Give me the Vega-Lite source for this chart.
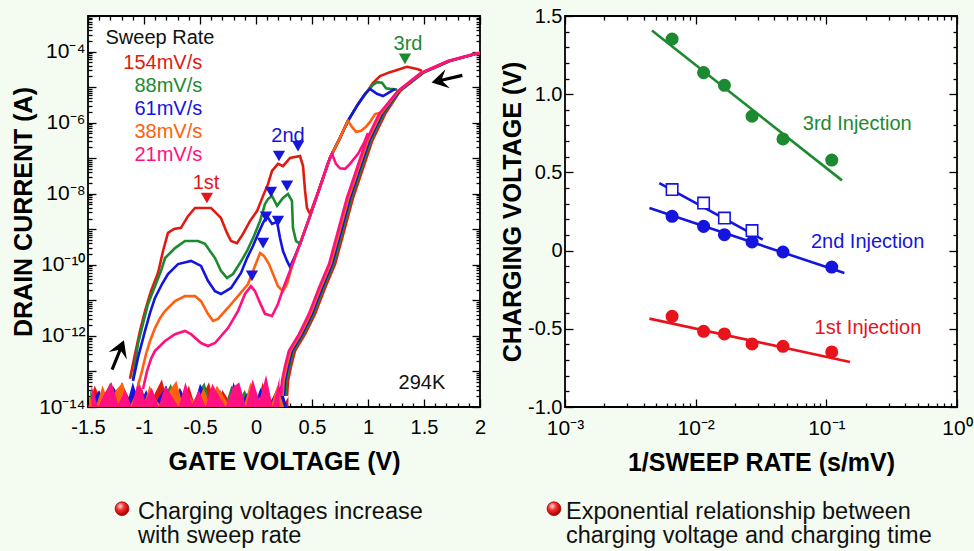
{
"$schema":"https://vega.github.io/schema/vega-lite/v6.json",
"background":"#f4fcf1",
"padding":{"left":10,"top":4,"right":0,"bottom":0},
"datasets":{
"noise":[
{"k":"154mV/s","v":-1.50,"i":1e-14},{"k":"154mV/s","v":-1.44,"i":4e-14},{"k":"154mV/s","v":-1.38,"i":1.5e-14},{"k":"154mV/s","v":-1.32,"i":3e-14},{"k":"154mV/s","v":-1.26,"i":1e-14},{"k":"154mV/s","v":-1.20,"i":5e-14},{"k":"154mV/s","v":-1.14,"i":2e-14},{"k":"154mV/s","v":-1.08,"i":1e-14},{"k":"154mV/s","v":-1.02,"i":3.5e-14},{"k":"154mV/s","v":-0.96,"i":1e-14},{"k":"154mV/s","v":-0.90,"i":2.5e-14},{"k":"154mV/s","v":-0.84,"i":6e-14},{"k":"154mV/s","v":-0.78,"i":1e-14},{"k":"154mV/s","v":-0.72,"i":3e-14},{"k":"154mV/s","v":-0.66,"i":1.2e-14},{"k":"154mV/s","v":-0.60,"i":4e-14},{"k":"154mV/s","v":-0.54,"i":1e-14},{"k":"154mV/s","v":-0.48,"i":2e-14},{"k":"154mV/s","v":-0.42,"i":5e-14},{"k":"154mV/s","v":-0.36,"i":1e-14},{"k":"154mV/s","v":-0.30,"i":3e-14},{"k":"154mV/s","v":-0.24,"i":1.5e-14},{"k":"154mV/s","v":-0.18,"i":4e-14},{"k":"154mV/s","v":-0.12,"i":1e-14},{"k":"154mV/s","v":-0.06,"i":2.5e-14},{"k":"154mV/s","v":0.00,"i":1e-14},{"k":"154mV/s","v":0.06,"i":5e-14},{"k":"154mV/s","v":0.12,"i":1.2e-14},{"k":"154mV/s","v":0.18,"i":3e-14},{"k":"154mV/s","v":0.24,"i":1e-14},{"k":"154mV/s","v":0.29,"i":2e-14},
{"k":"88mV/s","v":-1.48,"i":3e-14},{"k":"88mV/s","v":-1.42,"i":1e-14},{"k":"88mV/s","v":-1.36,"i":2e-14},{"k":"88mV/s","v":-1.30,"i":5e-14},{"k":"88mV/s","v":-1.24,"i":1e-14},{"k":"88mV/s","v":-1.18,"i":2.5e-14},{"k":"88mV/s","v":-1.12,"i":1e-14},{"k":"88mV/s","v":-1.06,"i":4e-14},{"k":"88mV/s","v":-1.00,"i":1.2e-14},{"k":"88mV/s","v":-0.94,"i":3e-14},{"k":"88mV/s","v":-0.88,"i":1e-14},{"k":"88mV/s","v":-0.82,"i":2e-14},{"k":"88mV/s","v":-0.76,"i":4.5e-14},{"k":"88mV/s","v":-0.70,"i":1e-14},{"k":"88mV/s","v":-0.64,"i":3e-14},{"k":"88mV/s","v":-0.58,"i":1e-14},{"k":"88mV/s","v":-0.52,"i":2.5e-14},{"k":"88mV/s","v":-0.46,"i":5e-14},{"k":"88mV/s","v":-0.40,"i":1e-14},{"k":"88mV/s","v":-0.34,"i":2e-14},{"k":"88mV/s","v":-0.28,"i":1e-14},{"k":"88mV/s","v":-0.22,"i":4e-14},{"k":"88mV/s","v":-0.16,"i":1.5e-14},{"k":"88mV/s","v":-0.10,"i":3e-14},{"k":"88mV/s","v":-0.04,"i":1e-14},{"k":"88mV/s","v":0.02,"i":2e-14},{"k":"88mV/s","v":0.08,"i":4e-14},{"k":"88mV/s","v":0.14,"i":1e-14},{"k":"88mV/s","v":0.20,"i":3.5e-14},{"k":"88mV/s","v":0.26,"i":1.2e-14},
{"k":"61mV/s","v":-1.46,"i":1.5e-14},{"k":"61mV/s","v":-1.40,"i":3e-14},{"k":"61mV/s","v":-1.34,"i":1e-14},{"k":"61mV/s","v":-1.28,"i":4e-14},{"k":"61mV/s","v":-1.22,"i":2e-14},{"k":"61mV/s","v":-1.16,"i":1e-14},{"k":"61mV/s","v":-1.10,"i":5e-14},{"k":"61mV/s","v":-1.04,"i":1.2e-14},{"k":"61mV/s","v":-0.98,"i":3e-14},{"k":"61mV/s","v":-0.92,"i":1e-14},{"k":"61mV/s","v":-0.86,"i":2e-14},{"k":"61mV/s","v":-0.80,"i":4e-14},{"k":"61mV/s","v":-0.74,"i":1e-14},{"k":"61mV/s","v":-0.68,"i":3.5e-14},{"k":"61mV/s","v":-0.62,"i":1.5e-14},{"k":"61mV/s","v":-0.56,"i":1e-14},{"k":"61mV/s","v":-0.50,"i":4.5e-14},{"k":"61mV/s","v":-0.44,"i":2e-14},{"k":"61mV/s","v":-0.38,"i":1e-14},{"k":"61mV/s","v":-0.32,"i":3e-14},{"k":"61mV/s","v":-0.26,"i":1e-14},{"k":"61mV/s","v":-0.20,"i":5e-14},{"k":"61mV/s","v":-0.14,"i":1.2e-14},{"k":"61mV/s","v":-0.08,"i":2.5e-14},{"k":"61mV/s","v":-0.02,"i":1e-14},{"k":"61mV/s","v":0.04,"i":3.5e-14},{"k":"61mV/s","v":0.10,"i":1e-14},{"k":"61mV/s","v":0.16,"i":2e-14},{"k":"61mV/s","v":0.22,"i":4e-14},{"k":"61mV/s","v":0.28,"i":1e-14},
{"k":"38mV/s","v":-1.49,"i":2e-14},{"k":"38mV/s","v":-1.43,"i":1e-14},{"k":"38mV/s","v":-1.37,"i":4e-14},{"k":"38mV/s","v":-1.31,"i":1.2e-14},{"k":"38mV/s","v":-1.25,"i":3e-14},{"k":"38mV/s","v":-1.19,"i":5e-14},{"k":"38mV/s","v":-1.13,"i":1e-14},{"k":"38mV/s","v":-1.07,"i":2.5e-14},{"k":"38mV/s","v":-1.01,"i":1e-14},{"k":"38mV/s","v":-0.95,"i":4e-14},{"k":"38mV/s","v":-0.89,"i":1.5e-14},{"k":"38mV/s","v":-0.83,"i":1e-14},{"k":"38mV/s","v":-0.77,"i":3e-14},{"k":"38mV/s","v":-0.71,"i":5.5e-14},{"k":"38mV/s","v":-0.65,"i":1e-14},{"k":"38mV/s","v":-0.59,"i":2e-14},{"k":"38mV/s","v":-0.53,"i":1e-14},{"k":"38mV/s","v":-0.47,"i":3.5e-14},{"k":"38mV/s","v":-0.41,"i":1.2e-14},{"k":"38mV/s","v":-0.35,"i":4e-14},{"k":"38mV/s","v":-0.29,"i":2e-14},{"k":"38mV/s","v":-0.23,"i":1e-14},{"k":"38mV/s","v":-0.17,"i":3e-14},{"k":"38mV/s","v":-0.11,"i":1e-14},{"k":"38mV/s","v":-0.05,"i":5e-14},{"k":"38mV/s","v":0.01,"i":1.5e-14},{"k":"38mV/s","v":0.07,"i":2.5e-14},{"k":"38mV/s","v":0.13,"i":1e-14},{"k":"38mV/s","v":0.19,"i":4e-14},{"k":"38mV/s","v":0.25,"i":1e-14},
{"k":"21mV/s","v":-1.47,"i":4e-14},{"k":"21mV/s","v":-1.41,"i":1e-14},{"k":"21mV/s","v":-1.35,"i":2.5e-14},{"k":"21mV/s","v":-1.29,"i":5e-14},{"k":"21mV/s","v":-1.23,"i":1.2e-14},{"k":"21mV/s","v":-1.17,"i":3e-14},{"k":"21mV/s","v":-1.11,"i":1e-14},{"k":"21mV/s","v":-1.05,"i":6e-14},{"k":"21mV/s","v":-0.99,"i":1.5e-14},{"k":"21mV/s","v":-0.93,"i":3.5e-14},{"k":"21mV/s","v":-0.87,"i":1e-14},{"k":"21mV/s","v":-0.81,"i":4e-14},{"k":"21mV/s","v":-0.75,"i":2e-14},{"k":"21mV/s","v":-0.69,"i":1e-14},{"k":"21mV/s","v":-0.63,"i":5e-14},{"k":"21mV/s","v":-0.57,"i":1.2e-14},{"k":"21mV/s","v":-0.51,"i":3e-14},{"k":"21mV/s","v":-0.45,"i":1e-14},{"k":"21mV/s","v":-0.39,"i":4.5e-14},{"k":"21mV/s","v":-0.33,"i":2e-14},{"k":"21mV/s","v":-0.27,"i":1e-14},{"k":"21mV/s","v":-0.21,"i":3.5e-14},{"k":"21mV/s","v":-0.15,"i":5e-14},{"k":"21mV/s","v":-0.09,"i":1e-14},{"k":"21mV/s","v":-0.03,"i":6e-14},{"k":"21mV/s","v":0.03,"i":1.5e-14},{"k":"21mV/s","v":0.09,"i":8e-14},{"k":"21mV/s","v":0.15,"i":1e-14},{"k":"21mV/s","v":0.21,"i":7e-14}
],
"curves":[
{"k":"154mV/s","b":"f","v":-1.125,"i":6.2e-14},{"k":"154mV/s","b":"f","v":-1.08,"i":3.1e-13},{"k":"154mV/s","b":"f","v":-1.036,"i":1.38e-12},{"k":"154mV/s","b":"f","v":-0.991,"i":5.0e-12},{"k":"154mV/s","b":"f","v":-0.938,"i":1.82e-11},{"k":"154mV/s","b":"f","v":-0.875,"i":5.9e-11},{"k":"154mV/s","b":"f","v":-0.83,"i":2.45e-10},{"k":"154mV/s","b":"f","v":-0.786,"i":7.9e-10},{"k":"154mV/s","b":"f","v":-0.732,"i":1.02e-9},{"k":"154mV/s","b":"f","v":-0.67,"i":1.1e-9},{"k":"154mV/s","b":"f","v":-0.607,"i":2.34e-9},{"k":"154mV/s","b":"f","v":-0.545,"i":3.98e-9},{"k":"154mV/s","b":"f","v":-0.402,"i":3.98e-9},{"k":"154mV/s","b":"f","v":-0.313,"i":2.09e-9},{"k":"154mV/s","b":"f","v":-0.259,"i":7.9e-10},{"k":"154mV/s","b":"f","v":-0.223,"i":4.68e-10},{"k":"154mV/s","b":"f","v":-0.17,"i":4.07e-10},{"k":"154mV/s","b":"f","v":-0.116,"i":7.4e-10},{"k":"154mV/s","b":"f","v":-0.054,"i":1.7e-9},{"k":"154mV/s","b":"f","v":0.009,"i":3.24e-9},{"k":"154mV/s","b":"f","v":0.063,"i":8.7e-9},{"k":"154mV/s","b":"f","v":0.107,"i":1.86e-8},{"k":"154mV/s","b":"f","v":0.143,"i":4.37e-8},{"k":"154mV/s","b":"f","v":0.196,"i":6.9e-8},{"k":"154mV/s","b":"f","v":0.241,"i":6.0e-8},{"k":"154mV/s","b":"f","v":0.304,"i":1.02e-7},{"k":"154mV/s","b":"f","v":0.393,"i":1.15e-7},{"k":"154mV/s","b":"f","v":0.42,"i":6.0e-8},{"k":"154mV/s","b":"f","v":0.438,"i":1.2e-8},{"k":"154mV/s","b":"f","v":0.455,"i":3.98e-9},{"k":"154mV/s","b":"f","v":0.482,"i":2.69e-9},{"k":"154mV/s","b":"f","v":0.571,"i":1.55e-8},{"k":"154mV/s","b":"f","v":0.661,"i":1.02e-7},{"k":"154mV/s","b":"f","v":0.75,"i":3.72e-7},{"k":"154mV/s","b":"f","v":0.821,"i":1.12e-6},{"k":"154mV/s","b":"f","v":0.911,"i":3.31e-6},{"k":"154mV/s","b":"f","v":0.982,"i":6.76e-6},{"k":"154mV/s","b":"f","v":1.045,"i":1.32e-5},{"k":"154mV/s","b":"f","v":1.107,"i":2.04e-5},{"k":"154mV/s","b":"f","v":1.196,"i":2.63e-5},{"k":"154mV/s","b":"f","v":1.259,"i":3.02e-5},{"k":"154mV/s","b":"f","v":1.348,"i":3.72e-5},{"k":"154mV/s","b":"f","v":1.438,"i":3.24e-5},{"k":"154mV/s","b":"f","v":1.482,"i":2.9e-5},
{"k":"154mV/s","b":"b","v":2.0,"i":9.1e-5},{"k":"154mV/s","b":"b","v":1.96,"i":8.5e-5},{"k":"154mV/s","b":"b","v":1.733,"i":5.4e-5},{"k":"154mV/s","b":"b","v":1.492,"i":2.51e-5},{"k":"154mV/s","b":"b","v":1.287,"i":7.8e-6},{"k":"154mV/s","b":"b","v":1.152,"i":1.74e-6},{"k":"154mV/s","b":"b","v":1.036,"i":3.0e-7},{"k":"154mV/s","b":"b","v":0.947,"i":4.37e-8},{"k":"154mV/s","b":"b","v":0.866,"i":7.6e-9},{"k":"154mV/s","b":"b","v":0.786,"i":8.9e-10},{"k":"154mV/s","b":"b","v":0.706,"i":1.05e-10},{"k":"154mV/s","b":"b","v":0.616,"i":2.24e-11},{"k":"154mV/s","b":"b","v":0.527,"i":4.17e-12},{"k":"154mV/s","b":"b","v":0.438,"i":1.12e-12},{"k":"154mV/s","b":"b","v":0.348,"i":3.8e-13},{"k":"154mV/s","b":"b","v":0.313,"i":1.41e-13},{"k":"154mV/s","b":"b","v":0.286,"i":5.4e-14},{"k":"154mV/s","b":"b","v":0.277,"i":2.04e-14},
{"k":"88mV/s","b":"f","v":-1.098,"i":6.2e-14},{"k":"88mV/s","b":"f","v":-1.054,"i":5.9e-13},{"k":"88mV/s","b":"f","v":-1.009,"i":2.19e-12},{"k":"88mV/s","b":"f","v":-0.964,"i":7.9e-12},{"k":"88mV/s","b":"f","v":-0.902,"i":2.51e-11},{"k":"88mV/s","b":"f","v":-0.848,"i":6.8e-11},{"k":"88mV/s","b":"f","v":-0.812,"i":1.55e-10},{"k":"88mV/s","b":"f","v":-0.723,"i":2.95e-10},{"k":"88mV/s","b":"f","v":-0.634,"i":4.68e-10},{"k":"88mV/s","b":"f","v":-0.518,"i":4.68e-10},{"k":"88mV/s","b":"f","v":-0.455,"i":3.89e-10},{"k":"88mV/s","b":"f","v":-0.411,"i":2.45e-10},{"k":"88mV/s","b":"f","v":-0.366,"i":1.55e-10},{"k":"88mV/s","b":"f","v":-0.313,"i":6.8e-11},{"k":"88mV/s","b":"f","v":-0.259,"i":4.27e-11},{"k":"88mV/s","b":"f","v":-0.205,"i":5.5e-11},{"k":"88mV/s","b":"f","v":-0.143,"i":1.12e-10},{"k":"88mV/s","b":"f","v":-0.08,"i":2.45e-10},{"k":"88mV/s","b":"f","v":-0.018,"i":6.5e-10},{"k":"88mV/s","b":"f","v":0.036,"i":1.7e-9},{"k":"88mV/s","b":"f","v":0.08,"i":5.1e-9},{"k":"88mV/s","b":"f","v":0.107,"i":7.1e-9},{"k":"88mV/s","b":"f","v":0.143,"i":8.7e-9},{"k":"88mV/s","b":"f","v":0.188,"i":4.57e-9},{"k":"88mV/s","b":"f","v":0.241,"i":7.6e-9},{"k":"88mV/s","b":"f","v":0.286,"i":9.8e-9},{"k":"88mV/s","b":"f","v":0.321,"i":6.3e-9},{"k":"88mV/s","b":"f","v":0.33,"i":1.1e-9},{"k":"88mV/s","b":"f","v":0.357,"i":4.68e-10},{"k":"88mV/s","b":"f","v":0.393,"i":3.89e-10},{"k":"88mV/s","b":"f","v":0.482,"i":2.34e-9},{"k":"88mV/s","b":"f","v":0.571,"i":1.55e-8},{"k":"88mV/s","b":"f","v":0.661,"i":1.02e-7},{"k":"88mV/s","b":"f","v":0.75,"i":3.72e-7},{"k":"88mV/s","b":"f","v":0.821,"i":1.12e-6},{"k":"88mV/s","b":"f","v":0.911,"i":3.31e-6},{"k":"88mV/s","b":"f","v":0.982,"i":6.76e-6},{"k":"88mV/s","b":"f","v":1.045,"i":1.15e-5},{"k":"88mV/s","b":"f","v":1.08,"i":1.38e-5},{"k":"88mV/s","b":"f","v":1.125,"i":1.32e-5},{"k":"88mV/s","b":"f","v":1.161,"i":9.3e-6},{"k":"88mV/s","b":"f","v":1.196,"i":8.9e-6},{"k":"88mV/s","b":"f","v":1.26,"i":8.5e-6},
{"k":"88mV/s","b":"b","v":2.0,"i":9.1e-5},{"k":"88mV/s","b":"b","v":1.96,"i":8.5e-5},{"k":"88mV/s","b":"b","v":1.728,"i":5.4e-5},{"k":"88mV/s","b":"b","v":1.487,"i":2.51e-5},{"k":"88mV/s","b":"b","v":1.282,"i":7.8e-6},{"k":"88mV/s","b":"b","v":1.138,"i":1.74e-6},{"k":"88mV/s","b":"b","v":1.022,"i":3.0e-7},{"k":"88mV/s","b":"b","v":0.933,"i":4.37e-8},{"k":"88mV/s","b":"b","v":0.852,"i":7.6e-9},{"k":"88mV/s","b":"b","v":0.772,"i":8.9e-10},{"k":"88mV/s","b":"b","v":0.692,"i":1.05e-10},{"k":"88mV/s","b":"b","v":0.602,"i":2.24e-11},{"k":"88mV/s","b":"b","v":0.513,"i":4.17e-12},{"k":"88mV/s","b":"b","v":0.424,"i":1.12e-12},{"k":"88mV/s","b":"b","v":0.334,"i":3.8e-13},{"k":"88mV/s","b":"b","v":0.299,"i":1.41e-13},{"k":"88mV/s","b":"b","v":0.272,"i":5.4e-14},{"k":"88mV/s","b":"b","v":0.263,"i":2.04e-14},
{"k":"61mV/s","b":"f","v":-1.098,"i":5.4e-14},{"k":"61mV/s","b":"f","v":-1.054,"i":2.4e-13},{"k":"61mV/s","b":"f","v":-0.991,"i":1.38e-12},{"k":"61mV/s","b":"f","v":-0.946,"i":4.47e-12},{"k":"61mV/s","b":"f","v":-0.902,"i":1.17e-11},{"k":"61mV/s","b":"f","v":-0.839,"i":2.88e-11},{"k":"61mV/s","b":"f","v":-0.786,"i":5.5e-11},{"k":"61mV/s","b":"f","v":-0.696,"i":1.05e-10},{"k":"61mV/s","b":"f","v":-0.58,"i":1.29e-10},{"k":"61mV/s","b":"f","v":-0.491,"i":9.3e-11},{"k":"61mV/s","b":"f","v":-0.429,"i":3.55e-11},{"k":"61mV/s","b":"f","v":-0.366,"i":1.82e-11},{"k":"61mV/s","b":"f","v":-0.313,"i":1.51e-11},{"k":"61mV/s","b":"f","v":-0.223,"i":2.24e-11},{"k":"61mV/s","b":"f","v":-0.134,"i":5.9e-11},{"k":"61mV/s","b":"f","v":-0.08,"i":1.55e-10},{"k":"61mV/s","b":"f","v":-0.027,"i":3.39e-10},{"k":"61mV/s","b":"f","v":0.018,"i":7.4e-10},{"k":"61mV/s","b":"f","v":0.063,"i":1.51e-9},{"k":"61mV/s","b":"f","v":0.098,"i":2.34e-9},{"k":"61mV/s","b":"f","v":0.143,"i":1.41e-9},{"k":"61mV/s","b":"f","v":0.188,"i":1.62e-9},{"k":"61mV/s","b":"f","v":0.214,"i":5.75e-10},{"k":"61mV/s","b":"f","v":0.241,"i":2.45e-10},{"k":"61mV/s","b":"f","v":0.277,"i":1.29e-10},{"k":"61mV/s","b":"f","v":0.304,"i":8.7e-11},{"k":"61mV/s","b":"f","v":0.348,"i":1.78e-10},{"k":"61mV/s","b":"f","v":0.393,"i":3.89e-10},{"k":"61mV/s","b":"f","v":0.482,"i":2.34e-9},{"k":"61mV/s","b":"f","v":0.571,"i":1.55e-8},{"k":"61mV/s","b":"f","v":0.661,"i":1.02e-7},{"k":"61mV/s","b":"f","v":0.75,"i":3.72e-7},{"k":"61mV/s","b":"f","v":0.821,"i":1.12e-6},{"k":"61mV/s","b":"f","v":0.911,"i":3.31e-6},{"k":"61mV/s","b":"f","v":0.973,"i":6.5e-6},{"k":"61mV/s","b":"f","v":1.018,"i":8.9e-6},{"k":"61mV/s","b":"f","v":1.08,"i":6.5e-6},{"k":"61mV/s","b":"f","v":1.134,"i":5.6e-6},{"k":"61mV/s","b":"f","v":1.179,"i":6.8e-6},{"k":"61mV/s","b":"f","v":1.241,"i":8.9e-6},
{"k":"61mV/s","b":"b","v":2.0,"i":9.1e-5},{"k":"61mV/s","b":"b","v":1.955,"i":8.5e-5},{"k":"61mV/s","b":"b","v":1.723,"i":5.4e-5},{"k":"61mV/s","b":"b","v":1.482,"i":2.51e-5},{"k":"61mV/s","b":"b","v":1.277,"i":7.8e-6},{"k":"61mV/s","b":"b","v":1.125,"i":1.74e-6},{"k":"61mV/s","b":"b","v":1.009,"i":3.0e-7},{"k":"61mV/s","b":"b","v":0.92,"i":4.37e-8},{"k":"61mV/s","b":"b","v":0.839,"i":7.6e-9},{"k":"61mV/s","b":"b","v":0.759,"i":8.9e-10},{"k":"61mV/s","b":"b","v":0.679,"i":1.05e-10},{"k":"61mV/s","b":"b","v":0.589,"i":2.24e-11},{"k":"61mV/s","b":"b","v":0.5,"i":4.17e-12},{"k":"61mV/s","b":"b","v":0.411,"i":1.12e-12},{"k":"61mV/s","b":"b","v":0.321,"i":3.8e-13},{"k":"61mV/s","b":"b","v":0.286,"i":1.41e-13},{"k":"61mV/s","b":"b","v":0.259,"i":5.4e-14},{"k":"61mV/s","b":"b","v":0.25,"i":2.04e-14},
{"k":"38mV/s","b":"f","v":-1.054,"i":3.9e-14},{"k":"38mV/s","b":"f","v":-1.018,"i":1.02e-13},{"k":"38mV/s","b":"f","v":-0.982,"i":3.1e-13},{"k":"38mV/s","b":"f","v":-0.946,"i":7.2e-13},{"k":"38mV/s","b":"f","v":-0.902,"i":1.66e-12},{"k":"38mV/s","b":"f","v":-0.857,"i":3.16e-12},{"k":"38mV/s","b":"f","v":-0.813,"i":5.0e-12},{"k":"38mV/s","b":"f","v":-0.723,"i":9.5e-12},{"k":"38mV/s","b":"f","v":-0.634,"i":1.32e-11},{"k":"38mV/s","b":"f","v":-0.545,"i":1.32e-11},{"k":"38mV/s","b":"f","v":-0.491,"i":9.5e-12},{"k":"38mV/s","b":"f","v":-0.429,"i":4.17e-12},{"k":"38mV/s","b":"f","v":-0.384,"i":2.63e-12},{"k":"38mV/s","b":"f","v":-0.339,"i":3.02e-12},{"k":"38mV/s","b":"f","v":-0.25,"i":6.2e-12},{"k":"38mV/s","b":"f","v":-0.161,"i":1.32e-11},{"k":"38mV/s","b":"f","v":-0.071,"i":2.88e-11},{"k":"38mV/s","b":"f","v":-0.009,"i":9.3e-11},{"k":"38mV/s","b":"f","v":0.036,"i":2.14e-10},{"k":"38mV/s","b":"f","v":0.071,"i":1.78e-10},{"k":"38mV/s","b":"f","v":0.116,"i":1.05e-10},{"k":"38mV/s","b":"f","v":0.152,"i":5.5e-11},{"k":"38mV/s","b":"f","v":0.196,"i":2.51e-11},{"k":"38mV/s","b":"f","v":0.241,"i":1.82e-11},{"k":"38mV/s","b":"f","v":0.277,"i":2.88e-11},{"k":"38mV/s","b":"f","v":0.321,"i":9.3e-11},{"k":"38mV/s","b":"f","v":0.393,"i":3.89e-10},{"k":"38mV/s","b":"f","v":0.482,"i":2.34e-9},{"k":"38mV/s","b":"f","v":0.571,"i":1.55e-8},{"k":"38mV/s","b":"f","v":0.661,"i":1.02e-7},{"k":"38mV/s","b":"f","v":0.75,"i":3.72e-7},{"k":"38mV/s","b":"f","v":0.821,"i":1.12e-6},{"k":"38mV/s","b":"f","v":0.857,"i":7.6e-7},{"k":"38mV/s","b":"f","v":0.893,"i":5.5e-7},{"k":"38mV/s","b":"f","v":0.938,"i":5.9e-7},{"k":"38mV/s","b":"f","v":0.982,"i":7.6e-7},{"k":"38mV/s","b":"f","v":1.018,"i":1.05e-6},{"k":"38mV/s","b":"f","v":1.063,"i":1.74e-6},{"k":"38mV/s","b":"f","v":1.134,"i":2.0e-6},
{"k":"38mV/s","b":"b","v":2.0,"i":9.1e-5},{"k":"38mV/s","b":"b","v":1.95,"i":8.5e-5},{"k":"38mV/s","b":"b","v":1.718,"i":5.4e-5},{"k":"38mV/s","b":"b","v":1.477,"i":2.51e-5},{"k":"38mV/s","b":"b","v":1.272,"i":7.8e-6},{"k":"38mV/s","b":"b","v":1.112,"i":1.74e-6},{"k":"38mV/s","b":"b","v":0.996,"i":3.0e-7},{"k":"38mV/s","b":"b","v":0.907,"i":4.37e-8},{"k":"38mV/s","b":"b","v":0.826,"i":7.6e-9},{"k":"38mV/s","b":"b","v":0.746,"i":8.9e-10},{"k":"38mV/s","b":"b","v":0.666,"i":1.05e-10},{"k":"38mV/s","b":"b","v":0.576,"i":2.24e-11},{"k":"38mV/s","b":"b","v":0.487,"i":4.17e-12},{"k":"38mV/s","b":"b","v":0.398,"i":1.12e-12},{"k":"38mV/s","b":"b","v":0.308,"i":3.8e-13},{"k":"38mV/s","b":"b","v":0.273,"i":1.41e-13},{"k":"38mV/s","b":"b","v":0.246,"i":5.4e-14},{"k":"38mV/s","b":"b","v":0.237,"i":2.04e-14},
{"k":"21mV/s","b":"f","v":-1.009,"i":3.2e-14},{"k":"21mV/s","b":"f","v":-0.973,"i":1.02e-13},{"k":"21mV/s","b":"f","v":-0.938,"i":2.24e-13},{"k":"21mV/s","b":"f","v":-0.902,"i":3.8e-13},{"k":"21mV/s","b":"f","v":-0.857,"i":5.2e-13},{"k":"21mV/s","b":"f","v":-0.813,"i":7.2e-13},{"k":"21mV/s","b":"f","v":-0.723,"i":1.12e-12},{"k":"21mV/s","b":"f","v":-0.634,"i":1.38e-12},{"k":"21mV/s","b":"f","v":-0.58,"i":1.12e-12},{"k":"21mV/s","b":"f","v":-0.491,"i":6.3e-13},{"k":"21mV/s","b":"f","v":-0.429,"i":5.2e-13},{"k":"21mV/s","b":"f","v":-0.366,"i":6.3e-13},{"k":"21mV/s","b":"f","v":-0.25,"i":1.66e-12},{"k":"21mV/s","b":"f","v":-0.161,"i":5.0e-12},{"k":"21mV/s","b":"f","v":-0.098,"i":1.51e-11},{"k":"21mV/s","b":"f","v":-0.045,"i":2.51e-11},{"k":"21mV/s","b":"f","v":-0.009,"i":1.82e-11},{"k":"21mV/s","b":"f","v":0.036,"i":8.5e-12},{"k":"21mV/s","b":"f","v":0.08,"i":4.17e-12},{"k":"21mV/s","b":"f","v":0.143,"i":3.63e-12},{"k":"21mV/s","b":"f","v":0.196,"i":7.9e-12},{"k":"21mV/s","b":"f","v":0.25,"i":2.51e-11},{"k":"21mV/s","b":"f","v":0.304,"i":6.8e-11},{"k":"21mV/s","b":"f","v":0.393,"i":3.89e-10},{"k":"21mV/s","b":"f","v":0.482,"i":2.34e-9},{"k":"21mV/s","b":"f","v":0.571,"i":1.55e-8},{"k":"21mV/s","b":"f","v":0.643,"i":7.4e-8},{"k":"21mV/s","b":"f","v":0.679,"i":1.32e-7},{"k":"21mV/s","b":"f","v":0.714,"i":6.9e-8},{"k":"21mV/s","b":"f","v":0.75,"i":5.2e-8},{"k":"21mV/s","b":"f","v":0.795,"i":5.0e-8},{"k":"21mV/s","b":"f","v":0.839,"i":6.9e-8},{"k":"21mV/s","b":"f","v":0.911,"i":1.32e-7},{"k":"21mV/s","b":"f","v":0.964,"i":2.69e-7},{"k":"21mV/s","b":"f","v":1.0,"i":5.1e-7},
{"k":"21mV/s","b":"b","v":2.0,"i":9.1e-5},{"k":"21mV/s","b":"b","v":1.945,"i":8.5e-5},{"k":"21mV/s","b":"b","v":1.713,"i":5.4e-5},{"k":"21mV/s","b":"b","v":1.472,"i":2.51e-5},{"k":"21mV/s","b":"b","v":1.267,"i":7.8e-6},{"k":"21mV/s","b":"b","v":1.098,"i":1.74e-6},{"k":"21mV/s","b":"b","v":0.982,"i":3.0e-7},{"k":"21mV/s","b":"b","v":0.893,"i":4.37e-8},{"k":"21mV/s","b":"b","v":0.812,"i":7.6e-9},{"k":"21mV/s","b":"b","v":0.732,"i":8.9e-10},{"k":"21mV/s","b":"b","v":0.652,"i":1.05e-10},{"k":"21mV/s","b":"b","v":0.562,"i":2.24e-11},{"k":"21mV/s","b":"b","v":0.473,"i":4.17e-12},{"k":"21mV/s","b":"b","v":0.384,"i":1.12e-12},{"k":"21mV/s","b":"b","v":0.294,"i":3.8e-13},{"k":"21mV/s","b":"b","v":0.259,"i":1.41e-13},{"k":"21mV/s","b":"b","v":0.232,"i":5.4e-14},{"k":"21mV/s","b":"b","v":0.223,"i":2.04e-14}
],
"tri":[
{"k":"2nd","v":0.205,"i":1.15e-7},{"k":"2nd","v":0.375,"i":2.19e-7},{"k":"2nd","v":0.134,"i":1.12e-8},{"k":"2nd","v":0.277,"i":1.66e-8},{"k":"2nd","v":0.089,"i":2.24e-9},{"k":"2nd","v":0.196,"i":1.7e-9},{"k":"2nd","v":0.063,"i":4.07e-10},{"k":"2nd","v":-0.036,"i":4.9e-11},{"k":"1st","v":-0.438,"i":7.6e-9},{"k":"3rd","v":1.33,"i":6.2e-5}
],
"legendtext":[
{"k":"154mV/s","v":-0.48,"i":4.8e-5},{"k":"88mV/s","v":-0.48,"i":1.07e-5},{"k":"61mV/s","v":-0.48,"i":2.4e-6},{"k":"38mV/s","v":-0.48,"i":5.5e-7},{"k":"21mV/s","v":-0.48,"i":1.23e-7}
],
"marktext":[
{"k":"1st","t":"1st","v":-0.446,"i":2.0e-8},{"k":"2nd","t":"2nd","v":0.286,"i":4.2e-7},{"k":"3rd","t":"3rd","v":1.357,"i":1.6e-4}
],
"blacktext":[
{"t":"Sweep Rate","v":-0.857,"i":2.4e-4},{"t":"294K","v":1.482,"i":4.8e-14}
],
"fits":[
{"k":"3rd","s":"3","x":0.00463,"y":1.407},{"k":"3rd","s":"3","x":0.1318,"y":0.449},
{"k":"2nd","s":"2a","x":0.00443,"y":0.272},{"k":"2nd","s":"2a","x":0.1374,"y":-0.143},
{"k":"2nd","s":"2b","x":0.00527,"y":0.432},{"k":"2nd","s":"2b","x":0.0326,"y":0.07},
{"k":"1st","s":"1","x":0.00443,"y":-0.435},{"k":"1st","s":"1","x":0.1517,"y":-0.712}
],
"circles":[
{"k":"3rd","x":0.0066,"y":1.353},{"k":"3rd","x":0.0115,"y":1.138},{"k":"3rd","x":0.0166,"y":1.057},{"k":"3rd","x":0.027,"y":0.859},{"k":"3rd","x":0.0466,"y":0.714},{"k":"3rd","x":0.11,"y":0.579},
{"k":"2nd","x":0.0066,"y":0.219},{"k":"2nd","x":0.0115,"y":0.155},{"k":"2nd","x":0.0166,"y":0.102},{"k":"2nd","x":0.027,"y":0.055},{"k":"2nd","x":0.0466,"y":-0.009},{"k":"2nd","x":0.11,"y":-0.105},
{"k":"1st","x":0.0066,"y":-0.42},{"k":"1st","x":0.0115,"y":-0.516},{"k":"1st","x":0.0166,"y":-0.533},{"k":"1st","x":0.027,"y":-0.597},{"k":"1st","x":0.0466,"y":-0.612},{"k":"1st","x":0.11,"y":-0.648}
],
"squares":[
{"x":0.0066,"y":0.39},{"x":0.0115,"y":0.304},{"x":0.0166,"y":0.208},{"x":0.027,"y":0.128}
],
"injlabels":[
{"k":"3rd","t":"3rd Injection","x":0.066,"y":0.808},{"k":"2nd","t":"2nd Injection","x":0.0762,"y":0.055},{"k":"1st","t":"1st Injection","x":0.0813,"y":-0.495}
],
"notes":[
{"side":"L","ln":1,"t":"Charging voltages increase"},{"side":"L","ln":2,"t":"with sweep rate"},
{"side":"R","ln":1,"t":"Exponential relationship between"},{"side":"R","ln":2,"t":"charging voltage and charging time"}
]
},
"vconcat":[
{"hconcat":[
{"width":392,"height":391,
"layer":[
{"data":{"name":"noise"},"mark":{"type":"area","clip":true,"opacity":1,"line":false},
"encoding":{
"x":{"field":"v","type":"quantitative","scale":{"domain":[-1.5,2],"nice":false,"zero":false},
 "axis":{"title":"GATE VOLTAGE (V)","values":[-1.5,-1.4,-1.3,-1.2,-1.1,-1,-0.9,-0.8,-0.7,-0.6,-0.5,-0.4,-0.3,-0.2,-0.1,0,0.1,0.2,0.3,0.4,0.5,0.6,0.7,0.8,0.9,1,1.1,1.2,1.3,1.4,1.5,1.6,1.7,1.8,1.9,2],
 "labelExpr":"abs(datum.value*2-round(datum.value*2))<0.01 ? toString(round(datum.value*10)/10) : ''",
 "tickSize":{"condition":{"test":"abs(datum.value*2-round(datum.value*2))<0.01","value":-8},"value":-4},
 "labelPadding":18,"titlePadding":8}},
"y":{"field":"i","type":"quantitative","scale":{"type":"log","domain":[1e-14,1e-3],"nice":false},
 "axis":{"title":"DRAIN CURRENT (A)","values":[1e-14,2e-14,3e-14,4e-14,5e-14,6e-14,7e-14,8e-14,9e-14,1e-13,2e-13,3e-13,4e-13,5e-13,6e-13,7e-13,8e-13,9e-13,1e-12,2e-12,3e-12,4e-12,5e-12,6e-12,7e-12,8e-12,9e-12,1e-11,2e-11,3e-11,4e-11,5e-11,6e-11,7e-11,8e-11,9e-11,1e-10,2e-10,3e-10,4e-10,5e-10,6e-10,7e-10,8e-10,9e-10,1e-9,2e-9,3e-9,4e-9,5e-9,6e-9,7e-9,8e-9,9e-9,1e-8,2e-8,3e-8,4e-8,5e-8,6e-8,7e-8,8e-8,9e-8,1e-7,2e-7,3e-7,4e-7,5e-7,6e-7,7e-7,8e-7,9e-7,1e-6,2e-6,3e-6,4e-6,5e-6,6e-6,7e-6,8e-6,9e-6,1e-5,2e-5,3e-5,4e-5,5e-5,6e-5,7e-5,8e-5,9e-5,1e-4,2e-4,3e-4,4e-4,5e-4,6e-4,7e-4,8e-4,9e-4,1e-3],
 "labelExpr":"abs(log(datum.value)/LN10-round(log(datum.value)/LN10))<0.01 ? (round(log(datum.value)/LN10)==-4 ? '10⁻⁴' : round(log(datum.value)/LN10)==-6 ? '10⁻⁶' : round(log(datum.value)/LN10)==-8 ? '10⁻⁸' : round(log(datum.value)/LN10)==-10 ? '10⁻¹⁰' : round(log(datum.value)/LN10)==-12 ? '10⁻¹²' : round(log(datum.value)/LN10)==-14 ? '10⁻¹⁴' : '') : ''",
 "tickSize":{"condition":{"test":"abs(log(datum.value)/LN10-round(log(datum.value)/LN10))<0.01","value":-8},"value":-4},
 "labelPadding":11,"titlePadding":2,"labelFontSize":21}},
"y2":{"datum":1e-14},
"color":{"field":"k","type":"nominal","scale":{"domain":["154mV/s","88mV/s","61mV/s","38mV/s","21mV/s","1st","2nd","3rd"],"range":["#e01a10","#1c8a30","#1414e0","#ff6010","#ff1080","#e8141c","#1515dd","#1c8a30"]},"legend":null}
}},
{"data":{"name":"curves"},"mark":{"type":"line","strokeWidth":2.6,"clip":true},
"encoding":{
"x":{"field":"v","type":"quantitative","axis":{"orient":"top","title":null,"labels":false,"values":[-1.5,-1.4,-1.3,-1.2,-1.1,-1,-0.9,-0.8,-0.7,-0.6,-0.5,-0.4,-0.3,-0.2,-0.1,0,0.1,0.2,0.3,0.4,0.5,0.6,0.7,0.8,0.9,1,1.1,1.2,1.3,1.4,1.5,1.6,1.7,1.8,1.9,2],
 "tickSize":{"condition":{"test":"abs(datum.value*2-round(datum.value*2))<0.01","value":-8},"value":-4}}},
"y":{"field":"i","type":"quantitative","axis":{"orient":"right","title":null,"labels":false,"values":[1e-14,2e-14,3e-14,4e-14,5e-14,6e-14,7e-14,8e-14,9e-14,1e-13,2e-13,3e-13,4e-13,5e-13,6e-13,7e-13,8e-13,9e-13,1e-12,2e-12,3e-12,4e-12,5e-12,6e-12,7e-12,8e-12,9e-12,1e-11,2e-11,3e-11,4e-11,5e-11,6e-11,7e-11,8e-11,9e-11,1e-10,2e-10,3e-10,4e-10,5e-10,6e-10,7e-10,8e-10,9e-10,1e-9,2e-9,3e-9,4e-9,5e-9,6e-9,7e-9,8e-9,9e-9,1e-8,2e-8,3e-8,4e-8,5e-8,6e-8,7e-8,8e-8,9e-8,1e-7,2e-7,3e-7,4e-7,5e-7,6e-7,7e-7,8e-7,9e-7,1e-6,2e-6,3e-6,4e-6,5e-6,6e-6,7e-6,8e-6,9e-6,1e-5,2e-5,3e-5,4e-5,5e-5,6e-5,7e-5,8e-5,9e-5,1e-4,2e-4,3e-4,4e-4,5e-4,6e-4,7e-4,8e-4,9e-4,1e-3],
 "tickSize":{"condition":{"test":"abs(log(datum.value)/LN10-round(log(datum.value)/LN10))<0.01","value":-8},"value":-4}}},
"color":{"field":"k","type":"nominal","scale":{"domain":["154mV/s","88mV/s","61mV/s","38mV/s","21mV/s","1st","2nd","3rd"],"range":["#e01a10","#1c8a30","#1414e0","#ff6010","#ff1080","#e8141c","#1515dd","#1c8a30"]},"legend":null},
"detail":{"field":"b"}
}},
{"data":{"name":"tri"},"mark":{"type":"point","shape":"triangle-down","filled":true,"size":150,"opacity":1},
"encoding":{"x":{"field":"v","type":"quantitative","axis":null},"y":{"field":"i","type":"quantitative","axis":null},
"color":{"field":"k","type":"nominal","scale":{"domain":["154mV/s","88mV/s","61mV/s","38mV/s","21mV/s","1st","2nd","3rd"],"range":["#e01a10","#1c8a30","#1414e0","#ff6010","#ff1080","#e8141c","#1515dd","#1c8a30"]},"legend":null}}},
{"data":{"name":"legendtext"},"mark":{"type":"text","align":"right","baseline":"middle","fontSize":20,"font":"Liberation Sans"},
"encoding":{"x":{"field":"v","type":"quantitative","axis":null},"y":{"field":"i","type":"quantitative","axis":null},"text":{"field":"k"},
"color":{"field":"k","type":"nominal","scale":{"domain":["154mV/s","88mV/s","61mV/s","38mV/s","21mV/s","1st","2nd","3rd"],"range":["#e01a10","#1c8a30","#1414e0","#ff6010","#ff1080","#e8141c","#1515dd","#1c8a30"]},"legend":null}}},
{"data":{"name":"marktext"},"mark":{"type":"text","align":"center","baseline":"middle","fontSize":20,"font":"Liberation Sans"},
"encoding":{"x":{"field":"v","type":"quantitative","axis":null},"y":{"field":"i","type":"quantitative","axis":null},"text":{"field":"t"},
"color":{"field":"k","type":"nominal","scale":{"domain":["154mV/s","88mV/s","61mV/s","38mV/s","21mV/s","1st","2nd","3rd"],"range":["#e01a10","#1c8a30","#1414e0","#ff6010","#ff1080","#e8141c","#1515dd","#1c8a30"]},"legend":null}}},
{"data":{"name":"blacktext"},"mark":{"type":"text","align":"center","baseline":"middle","fontSize":20,"font":"Liberation Sans","color":"#111111"},
"encoding":{"x":{"field":"v","type":"quantitative","axis":null},"y":{"field":"i","type":"quantitative","axis":null},"text":{"field":"t"}}},
{"data":{"values":[{"v":-1.232,"i":2.9e-13}]},"mark":{"type":"point","shape":"M0,-1L0.62,0.05L0.1,-0.3L0.1,1L-0.1,1L-0.1,-0.3L-0.62,0.05Z","filled":true,"color":"#000000","size":1000,"angle":22,"opacity":1},
"encoding":{"x":{"field":"v","type":"quantitative","axis":null},"y":{"field":"i","type":"quantitative","axis":null}}},
{"data":{"values":[{"v":1.705,"i":1.7e-5}]},"mark":{"type":"point","shape":"M0,-1L0.62,0.05L0.1,-0.3L0.1,1L-0.1,1L-0.1,-0.3L-0.62,0.05Z","filled":true,"color":"#000000","size":1000,"angle":257,"opacity":1},
"encoding":{"x":{"field":"v","type":"quantitative","axis":null},"y":{"field":"i","type":"quantitative","axis":null}}}
],
"resolve":{"axis":{"x":"independent","y":"independent"}}
},
{"width":392,"height":391,
"layer":[
{"data":{"name":"fits"},"mark":{"type":"line","strokeWidth":2.6,"clip":true},
"encoding":{
"x":{"field":"x","type":"quantitative","scale":{"type":"log","domain":[0.001,1],"nice":false},
 "axis":{"title":"1/SWEEP RATE (s/mV)","values":[0.001,0.002,0.003,0.004,0.005,0.006,0.007,0.008,0.009,0.01,0.02,0.03,0.04,0.05,0.06,0.07,0.08,0.09,0.1,0.2,0.3,0.4,0.5,0.6,0.7,0.8,0.9,1],
 "labelExpr":"abs(log(datum.value)/LN10-round(log(datum.value)/LN10))<0.01 ? (round(log(datum.value)/LN10)==-3 ? '10⁻³' : round(log(datum.value)/LN10)==-2 ? '10⁻²' : round(log(datum.value)/LN10)==-1 ? '10⁻¹' : '10⁰') : ''",
 "tickSize":{"condition":{"test":"abs(log(datum.value)/LN10-round(log(datum.value)/LN10))<0.01","value":-8},"value":-4},
 "labelPadding":18,"titlePadding":8,"labelFontSize":21}},
"y":{"field":"y","type":"quantitative","scale":{"domain":[-1,1.5],"nice":false,"zero":false},
 "axis":{"title":"CHARGING VOLTAGE (V)","values":[-1,-0.9,-0.8,-0.7,-0.6,-0.5,-0.4,-0.3,-0.2,-0.1,0,0.1,0.2,0.3,0.4,0.5,0.6,0.7,0.8,0.9,1,1.1,1.2,1.3,1.4,1.5],
 "labelExpr":"abs(datum.value*2-round(datum.value*2))<0.01 ? (abs(datum.value)<0.01 ? '0' : (datum.value<0 ? '-' : '') + format(abs(datum.value),'.1f')) : ''",
 "tickSize":{"condition":{"test":"abs(datum.value*2-round(datum.value*2))<0.01","value":-8},"value":-4},
 "labelPadding":11,"titlePadding":2}},
"color":{"field":"k","type":"nominal","scale":{"domain":["154mV/s","88mV/s","61mV/s","38mV/s","21mV/s","1st","2nd","3rd"],"range":["#e01a10","#1c8a30","#1414e0","#ff6010","#ff1080","#e8141c","#1515dd","#1c8a30"]},"legend":null},
"detail":{"field":"s"}
}},
{"data":{"name":"circles"},"mark":{"type":"point","shape":"circle","filled":true,"size":170,"opacity":1},
"encoding":{
"x":{"field":"x","type":"quantitative","axis":{"orient":"top","title":null,"labels":false,"values":[0.001,0.002,0.003,0.004,0.005,0.006,0.007,0.008,0.009,0.01,0.02,0.03,0.04,0.05,0.06,0.07,0.08,0.09,0.1,0.2,0.3,0.4,0.5,0.6,0.7,0.8,0.9,1],
 "tickSize":{"condition":{"test":"abs(log(datum.value)/LN10-round(log(datum.value)/LN10))<0.01","value":-8},"value":-4}}},
"y":{"field":"y","type":"quantitative","axis":{"orient":"right","title":null,"labels":false,"values":[-1,-0.9,-0.8,-0.7,-0.6,-0.5,-0.4,-0.3,-0.2,-0.1,0,0.1,0.2,0.3,0.4,0.5,0.6,0.7,0.8,0.9,1,1.1,1.2,1.3,1.4,1.5],
 "tickSize":{"condition":{"test":"abs(datum.value*2-round(datum.value*2))<0.01","value":-8},"value":-4}}},
"color":{"field":"k","type":"nominal","scale":{"domain":["154mV/s","88mV/s","61mV/s","38mV/s","21mV/s","1st","2nd","3rd"],"range":["#e01a10","#1c8a30","#1414e0","#ff6010","#ff1080","#e8141c","#1515dd","#1c8a30"]},"legend":null}
}},
{"data":{"name":"squares"},"mark":{"type":"point","shape":"square","filled":true,"fill":"white","stroke":"#1515dd","strokeWidth":1.6,"size":130,"opacity":1},
"encoding":{"x":{"field":"x","type":"quantitative","axis":null},"y":{"field":"y","type":"quantitative","axis":null}}},
{"data":{"name":"injlabels"},"mark":{"type":"text","align":"left","baseline":"middle","fontSize":20,"font":"Liberation Sans"},
"encoding":{"x":{"field":"x","type":"quantitative","axis":null},"y":{"field":"y","type":"quantitative","axis":null},"text":{"field":"t"},
"color":{"field":"k","type":"nominal","scale":{"domain":["154mV/s","88mV/s","61mV/s","38mV/s","21mV/s","1st","2nd","3rd"],"range":["#e01a10","#1c8a30","#1414e0","#ff6010","#ff1080","#e8141c","#1515dd","#1c8a30"]},"legend":null}}}
],
"resolve":{"axis":{"x":"independent","y":"independent"}}
}
],"spacing":12},
{"width":870,"height":54,"view":{"stroke":null,"fill":null},
"data":{"name":"notes"},
"layer":[
{"transform":[{"filter":"datum.side=='L'"}],"mark":{"type":"text","align":"left","baseline":"middle","fontSize":23.5,"font":"Liberation Sans","color":"#111111"},
"encoding":{"x":{"datum":0.0575,"type":"quantitative","scale":{"domain":[0,1]},"axis":null},"y":{"field":"ln","type":"quantitative","scale":{"domain":[2.5,0.5]},"axis":null},"text":{"field":"t"}}},
{"transform":[{"filter":"datum.side=='R'"}],"mark":{"type":"text","align":"left","baseline":"middle","fontSize":23.5,"font":"Liberation Sans","color":"#111111"},
"encoding":{"x":{"datum":0.5494,"type":"quantitative","axis":null},"y":{"field":"ln","type":"quantitative","axis":null},"text":{"field":"t"}}},
{"transform":[{"filter":"datum.side=='L' && datum.ln==1"}],"mark":{"type":"point","shape":"circle","filled":true,"size":190,"opacity":1,"yOffset":-3,"stroke":"#a00000","strokeWidth":0.8,"fill":{"gradient":"radial","x1":0.38,"y1":0.32,"x2":0.38,"y2":0.32,"r1":0,"r2":0.65,"stops":[{"offset":0,"color":"#ffd8d8"},{"offset":0.45,"color":"#f03030"},{"offset":1,"color":"#b00000"}]}},
"encoding":{"x":{"datum":0.0391,"type":"quantitative","axis":null},"y":{"field":"ln","type":"quantitative","axis":null}}},
{"transform":[{"filter":"datum.side=='R' && datum.ln==1"}],"mark":{"type":"point","shape":"circle","filled":true,"size":190,"opacity":1,"yOffset":-3,"stroke":"#a00000","strokeWidth":0.8,"fill":{"gradient":"radial","x1":0.38,"y1":0.32,"x2":0.38,"y2":0.32,"r1":0,"r2":0.65,"stops":[{"offset":0,"color":"#ffd8d8"},{"offset":0.45,"color":"#f03030"},{"offset":1,"color":"#b00000"}]}},
"encoding":{"x":{"datum":0.5356,"type":"quantitative","axis":null},"y":{"field":"ln","type":"quantitative","axis":null}}}
]}
],
"spacing":21,
"config":{
"font":"Liberation Sans",
"view":{"stroke":"#000000","strokeWidth":1.8,"fill":"white"},
"axis":{"domain":false,"grid":false,"tickColor":"#000000","tickWidth":1.3,"labelColor":"#000000","labelFont":"Liberation Sans","labelFontSize":20,"titleFont":"Liberation Sans","titleFontSize":25,"titleFontWeight":"bold","titleColor":"#000000","labelOverlap":false,"labelFlush":false,"labelBound":false}
}
}
